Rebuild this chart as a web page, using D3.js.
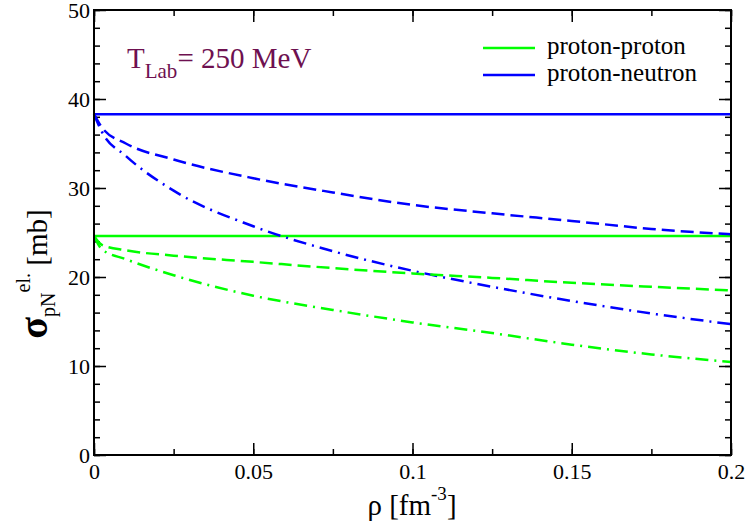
<!DOCTYPE html>
<html>
<head>
<meta charset="utf-8">
<script src="https://cdn.jsdelivr.net/npm/d3@7"></script>
<style>
  body { margin: 0; background: #fff; }
  svg text { font-family: "Liberation Serif", "Times New Roman", Times, "Nimbus Roman", "DejaVu Serif", serif !important; }
</style>
</head>
<body>
<div id="chart"></div>
<script>
//Data
const rho = [0, 0.0025, 0.01, 0.025, 0.05, 0.075, 0.1, 0.125, 0.15, 0.175, 0.2];
const ppFree = [24.6, 24.6, 24.6, 24.6, 24.6, 24.6, 24.6, 24.6, 24.6, 24.6, 24.6];
const pnFree = [38.3, 38.3, 38.3, 38.3, 38.3, 38.3, 38.3, 38.3, 38.3, 38.3, 38.3];
const ppDashed = [24.6, 23.6, 23.0, 22.4, 21.7, 21.0, 20.4, 19.9, 19.35, 18.9, 18.5];
const pnDashed = [38.3, 36.8, 35.0, 33.2, 31.1, 29.5, 28.1, 27.15, 26.3, 25.4, 24.8];
const ppDashDot = [24.6, 23.1, 22.0, 20.2, 17.9, 16.3, 14.9, 13.7, 12.4, 11.3, 10.45];
const pnDashDot = [38.3, 36.3, 33.6, 29.7, 25.7, 22.9, 20.7, 18.9, 17.3, 15.9, 14.7];
const xTicks = [0, 0.05, 0.1, 0.15, 0.2];
const yTicks = [0, 10, 20, 30, 40, 50];
const legendNames = ["proton-proton", "proton-neutron"];

//Dimensions
const width = 747;
const height = 527;
const pLeft = 94, pRight = 731, pTop = 10, pBottom = 455;
const green = "#00ff00", blue = "#0000ff";

const svg = d3.select("#chart").append("svg").attr("width", width).attr("height", height);

//Scales
const x = d3.scaleLinear().domain([0, 0.2]).range([pLeft, pRight]);
const y = d3.scaleLinear().domain([0, 50]).range([pBottom, pTop]);

const xMinor = d3.range(0, 0.2001, 0.025);
const yMinor = d3.range(0, 50.01, 2);

//Axes, ticks pointing inward on all four sides
const fmt = d => d === 0 ? "0" : String(+d.toFixed(3));
svg.append("g").attr("transform", `translate(0, ${pBottom})`)
    .call(d3.axisBottom(x).tickValues(xMinor).tickSize(-6).tickFormat(""));
svg.append("g").attr("transform", `translate(0, ${pBottom})`).attr("class", "xaxis")
    .call(d3.axisBottom(x).tickValues(xTicks).tickSize(-12).tickPadding(8).tickFormat(fmt));
svg.append("g").attr("transform", `translate(0, ${pTop})`)
    .call(d3.axisTop(x).tickValues(xMinor).tickSize(-6).tickFormat(""));
svg.append("g").attr("transform", `translate(0, ${pTop})`)
    .call(d3.axisTop(x).tickValues(xTicks).tickSize(-12).tickFormat(""));
svg.append("g").attr("transform", `translate(${pLeft}, 0)`)
    .call(d3.axisLeft(y).tickValues(yMinor).tickSize(-6).tickFormat(""));
svg.append("g").attr("transform", `translate(${pLeft}, 0)`).attr("class", "yaxis")
    .call(d3.axisLeft(y).tickValues(yTicks).tickSize(-12).tickPadding(4).tickFormat(d3.format("d")));
svg.append("g").attr("transform", `translate(${pRight}, 0)`)
    .call(d3.axisRight(y).tickValues(yMinor).tickSize(-6).tickFormat(""));
svg.append("g").attr("transform", `translate(${pRight}, 0)`)
    .call(d3.axisRight(y).tickValues(yTicks).tickSize(-12).tickFormat(""));

svg.selectAll(".domain").remove();
svg.selectAll("g").attr("font-family", null);
svg.selectAll(".tick line").attr("stroke", "#000").attr("stroke-width", 1.5);
svg.selectAll(".tick text").style("font-size", "22px").attr("fill", "#000");

//Curves
const series = [
    { vals: ppFree, color: green, dash: null },
    { vals: pnFree, color: blue, dash: null },
    { vals: pnDashed, color: blue, dash: "13,6" },
    { vals: pnDashDot, color: blue, dash: "13,6,2,6" },
    { vals: ppDashed, color: green, dash: "13,6" },
    { vals: ppDashDot, color: green, dash: "13,6,2,6" }
];
const line = d3.line().x(d => x(d[0])).y(d => y(d[1])).curve(d3.curveMonotoneX);
series.forEach(s => {
    svg.append("path")
        .datum(rho.map((r, i) => [r, s.vals[i]]))
        .attr("d", line)
        .attr("fill", "none")
        .attr("stroke", s.color)
        .attr("stroke-width", 2.5)
        .attr("stroke-dasharray", s.dash);
});

//Frame
svg.append("rect").attr("x", pLeft).attr("y", pTop).attr("width", pRight - pLeft).attr("height", pBottom - pTop)
    .attr("fill", "none").attr("stroke", "#000").attr("stroke-width", 2);

//Legend
[green, blue].forEach((c, i) => {
    svg.append("line").attr("x1", 483).attr("x2", 535).attr("y1", 48 + i * 27).attr("y2", 48 + i * 27)
        .attr("stroke", c).attr("stroke-width", 2.5);
    svg.append("text").attr("x", 547).attr("y", 54 + i * 27).style("font-size", "25px").text(legendNames[i]);
});

//Annotation
const ann = svg.append("text").attr("x", 127).attr("y", 68).attr("fill", "#6e1050").style("font-size", "29px");
ann.append("tspan").text("T");
ann.append("tspan").attr("dy", 10).style("font-size", "21px").text("Lab");
ann.append("tspan").attr("dy", -10).text("= 250 MeV");

//X title
const xt = svg.append("text").attr("x", 412).attr("y", 515).attr("text-anchor", "middle").style("font-size", "29px");
xt.append("tspan").text("ρ [fm");
xt.append("tspan").attr("dy", -15).style("font-size", "19px").text("-3");
xt.append("tspan").attr("dy", 15).text("]");

//Y title
const yt = svg.append("text").attr("transform", "translate(47, 274) rotate(-90)").attr("text-anchor", "middle").style("font-size", "29px");
yt.append("tspan").style("font-size", "40px").style("font-weight", "bold").text("σ");
yt.append("tspan").attr("dy", 8).style("font-size", "20px").text("pN");
yt.append("tspan").attr("dy", -25).style("font-size", "20px").text("el.");
yt.append("tspan").attr("dy", 17).text(" [mb]");
</script>
</body>
</html>
